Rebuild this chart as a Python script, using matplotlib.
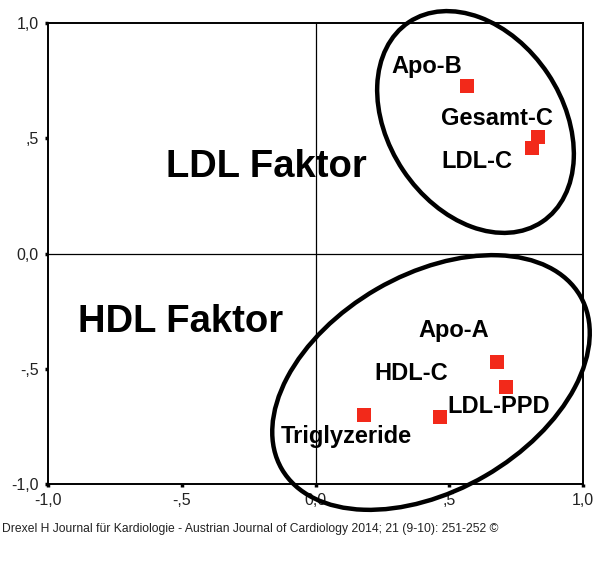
import matplotlib
matplotlib.use("Agg")
import matplotlib.pyplot as plt
from matplotlib.patches import Ellipse
from matplotlib.transforms import Affine2D

# ---- data ----
variables = ["Apo-B", "Gesamt-C", "LDL-C", "Apo-A", "LDL-PPD", "HDL-C", "Triglyzeride"]
factor1 = [0.566, 0.832, 0.809, 0.678, 0.712, 0.465, 0.181]
factor2 = [0.727, 0.505, 0.458, -0.47, -0.58, -0.71, -0.70]
tick_values = [-1.0, -0.5, 0.0, 0.5, 1.0]
tick_labels = ["-1,0", "-,5", "0,0", ",5", "1,0"]
footer = "Drexel H Journal für Kardiologie - Austrian Journal of Cardiology 2014; 21 (9-10): 251-252 ©"

W, H = 600, 578
fig = plt.figure(figsize=(W / 100, H / 100), dpi=100)
ax = fig.add_axes([48 / W, 1 - 484 / H, (583 - 48) / W, (484 - 23) / H])
ax.set_xlim(-1, 1)
ax.set_ylim(-1, 1)
for s in ax.spines.values():
    s.set_linewidth(1.4)
ax.axhline(0, color="black", lw=0.9)
ax.axvline(0, color="black", lw=0.9)
ax.set_xticks(tick_values)
ax.set_xticklabels(tick_labels)
ax.set_yticks(tick_values)
ax.set_yticklabels(tick_labels)
ax.tick_params(length=2.5, width=2.5, labelsize=11.5, pad=4, direction="out")
for lab in ax.get_xticklabels() + ax.get_yticklabels():
    lab.set_fontfamily("Liberation Sans")
    lab.set_color("#222222")

ax.scatter(factor1, factor2, marker="s", s=100, color="#f2291a", zorder=5, linewidths=0)

# pixel transform (origin top-left)
pix = Affine2D().scale(1 / W, -1 / H).translate(0, 1) + fig.transFigure

def inv(px, py):
    # pixel -> data coordinates for text placement
    return ax.transData.inverted().transform(pix.transform((px, py)))

lab_pos = {
    "Apo-B": (391, 73),
    "Gesamt-C": (441, 125),
    "LDL-C": (441, 168),
    "Apo-A": (418, 337),
    "HDL-C": (374, 380),
    "LDL-PPD": (447, 413),
    "Triglyzeride": (281, 443),
}
for name in variables:
    x, y = inv(*lab_pos[name])
    ax.text(x, y, name, fontsize=17, fontweight="bold", family="Liberation Sans",
            ha="left", va="baseline", color="black", zorder=6)

for txt, (px, py) in [("LDL Faktor", (166, 177)), ("HDL Faktor", (78, 332))]:
    x, y = inv(px, py)
    ax.text(x, y, txt, fontsize=27.5, fontweight="bold", family="Liberation Sans",
            ha="left", va="baseline", color="black", zorder=6)

# ellipses (pixel coordinates)
e1 = Ellipse((475.5, 122), 240, 174, angle=-123.7, fill=False, lw=3.2,
             edgecolor="black", transform=pix, clip_on=False, zorder=7)
e2 = Ellipse((431, 382.5), 345, 216, angle=-30.1, fill=False, lw=3.2,
             edgecolor="black", transform=pix, clip_on=False, zorder=7)
fig.add_artist(e1)
fig.add_artist(e2)

fig.text(2 / W, 1 - 532 / H, footer, fontsize=8.7,
         family="Liberation Sans", ha="left", va="baseline", color="#222222")

fig.savefig("out.png", dpi=100)
